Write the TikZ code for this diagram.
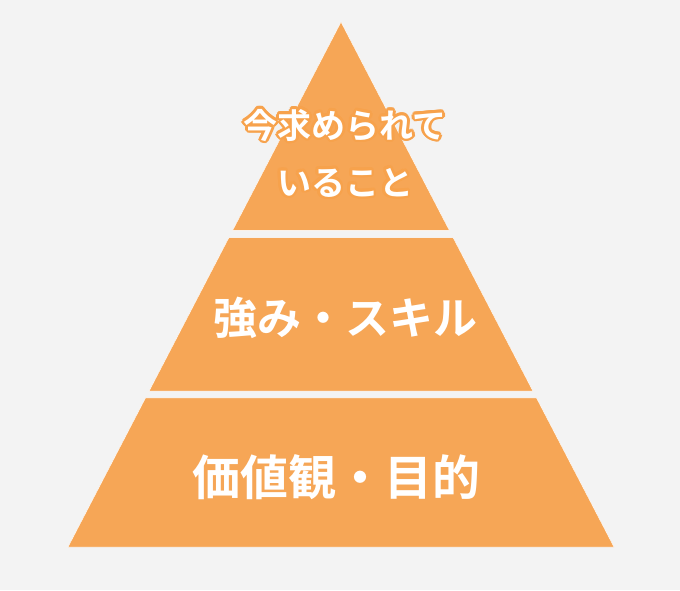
\documentclass[tikz,border=0pt]{standalone}
\usepackage{fontspec}
\usepackage{tikz}
\usetikzlibrary{calc,positioning}
\newfontfamily\jpfont{Noto Sans CJK JP}[BoldFont={Noto Sans CJK JP Bold}]
\definecolor{bgcol}{HTML}{F3F3F3}
\definecolor{pyrorange}{HTML}{F6A656}
\definecolor{rimorange}{HTML}{F7A24C}

\begin{document}
\begin{tikzpicture}[x=1pt,y=-1pt,
  band/.style={fill=pyrorange,draw=white,line width=0.4pt},
  label/.style={text=white,font=\jpfont\bfseries,inner sep=0pt,align=center}]
 \fill[bgcol] (0,0) rectangle (680,590);
 \coordinate (apex) at (341,22);
 \coordinate (bl) at (68,547);
 \coordinate (br) at (614,547);
 % top triangle
 \draw[band] (apex)--($(apex)!0.397!(br)$)--($(apex)!0.397!(bl)$)--cycle;
 % middle band
 \draw[band] ($(apex)!0.411!(bl)$)--($(apex)!0.411!(br)$)--($(apex)!0.703!(br)$)--($(apex)!0.703!(bl)$)--cycle;
 % bottom band
 \draw[band] ($(apex)!0.716!(bl)$)--($(apex)!0.716!(br)$)--(br)--(bl)--cycle;

 % top text with rim
 \coordinate (now) at (345,153);
 \foreach \a in {0,30,...,330}
   \node[label,text=rimorange,font=\jpfont\bfseries\fontsize{34}{57}\selectfont] at ($(now)+(\a:2.6)$) {今求められて\\いること};
 \node[label,font=\jpfont\bfseries\fontsize{34}{57}\selectfont] (needs) at (now) {今求められて\\いること};
 \node[label,font=\jpfont\bfseries\fontsize{44}{50}\selectfont] (skills) at (345,318) {強み・スキル};
 \node[label,font=\jpfont\bfseries\fontsize{48}{56}\selectfont] (values) at (336,477) {価値観・目的};
\end{tikzpicture}
\end{document}
